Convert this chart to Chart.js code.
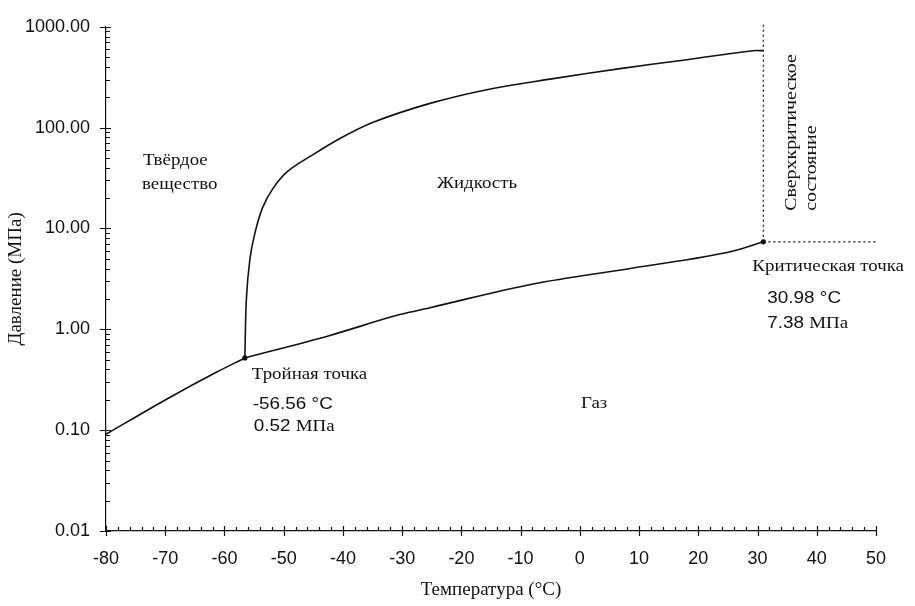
<!DOCTYPE html>
<html lang="ru">
<head>
<meta charset="utf-8">
<title>Фазовая диаграмма CO2</title>
<script src="https://cdn.jsdelivr.net/npm/chart.js@4.4.1/dist/chart.umd.min.js"></script>
<style>
  html, body { margin: 0; padding: 0; background: #fff; }
  #wrap { width: 915px; height: 606px; }
</style>
</head>
<body>
<div id="wrap"><canvas id="chart" width="915" height="606"></canvas></div>
<script>
// ===== Data =====
const xTicks = [-80, -70, -60, -50, -40, -30, -20, -10, 0, 10, 20, 30, 40, 50];
const yTicks = [0.01, 0.1, 1, 10, 100, 1000];
const yTickLabels = ['0.01', '0.10', '1.00', '10.00', '100.00', '1000.00'];

// solid <-> gas (sublimation)
const sublT = [-80, -69.7, -61.3, -56.56];
const sublP = [0.091, 0.204, 0.377, 0.52];

// liquid <-> gas (boiling)
const vapT = [-56.56, -42.2, -30.4, -25.3, -7.9, 9.0, 25.9, 30.98];
const vapP = [0.52, 0.87, 1.40, 1.64, 2.82, 4.06, 5.98, 7.38];

// solid <-> liquid (melting)
const meltT = [-56.56, -56.3, -55.7, -54.9, -53.6, -51.8, -49.3, -45.05, -40.5, -34.9, -25.3, -15.7, -4.5, 6.8, 18.1, 29.2, 30.98];
const meltP = [0.52, 2.0, 5.0, 8.8, 15.9, 25, 37, 54, 78, 113, 174, 238, 306, 385, 472, 579, 580];

// triple point, critical point
const pointT = [-56.56, 30.98];
const pointP = [0.52, 7.38];

// dotted boundaries of the supercritical region
const critVertT = [30.98, 30.98];
const critVertP = [7.38, 1050];
const critHorT = [30.98, 50];
const critHorP = [7.38, 7.38];

const toXY = (ts, ps) => ts.map((t, i) => ({ x: t, y: ps[i] }));

const SERIF = "'Liberation Serif', 'Times New Roman', serif";
const SANS = "'Liberation Sans', Arial, sans-serif";
const INK = '#111';

// ===== Text helper (slightly widened, like the source picture) =====
function drawParts(ctx, parts, x, y, sx = 1.18, rot = 0) {
  ctx.save();
  ctx.translate(x, y);
  if (rot) ctx.rotate(rot);
  ctx.scale(sx, 1);
  ctx.fillStyle = INK;
  ctx.textAlign = 'left';
  ctx.textBaseline = 'alphabetic';
  let dx = 0;
  parts.forEach(([text, font]) => {
    ctx.font = font;
    ctx.fillText(text, dx, 0);
    dx += ctx.measureText(text).width;
  });
  ctx.restore();
}

// ===== Inside ticks + annotations =====
const phasePlugin = {
  id: 'phase',
  afterDraw(chart) {
    const { ctx, chartArea: area, scales: { x, y } } = chart;
    const left = area.left, bottom = area.bottom;

    // tick marks
    ctx.save();
    ctx.strokeStyle = INK;
    ctx.lineWidth = 1.2;
    ctx.beginPath();
    for (let v = xTicks[0]; v <= xTicks[xTicks.length - 1]; v += 2) {
      const px = Math.round(x.getPixelForValue(v)) + 0.5;
      const major = v % 10 === 0;
      ctx.moveTo(px, bottom + (major ? 5 : 0));
      ctx.lineTo(px, bottom - (major ? 5 : 4));
    }
    yTicks.forEach((d, i) => {
      const py = Math.round(y.getPixelForValue(d)) + 0.5;
      ctx.moveTo(left - 6, py);
      ctx.lineTo(left + 5, py);
      if (i === yTicks.length - 1) return;
      for (let m = 2; m <= 9; m++) {
        const pm = Math.round(y.getPixelForValue(d * m)) + 0.5;
        ctx.moveTo(left, pm);
        ctx.lineTo(left + 4, pm);
      }
    });
    ctx.stroke();
    ctx.restore();

    const serif = '16px ' + SERIF;
    const sans = '16px ' + SANS;
    const at = (t, p) => [x.getPixelForValue(t), y.getPixelForValue(p)];

    // region names
    let [tx, ty] = at(-73.75, 43);
    drawParts(ctx, [['Твёрдое', serif]], tx, ty);
    drawParts(ctx, [['вещество', serif]], tx - 1, ty + 24);
    [tx, ty] = at(-24.1, 25);
    drawParts(ctx, [['Жидкость', serif]], tx, ty);
    [tx, ty] = at(0.2, 0.164);
    drawParts(ctx, [['Газ', serif]], tx, ty);

    // triple point
    const [trx, trY] = at(pointT[0], pointP[0]);
    drawParts(ctx, [['Тройная точка', serif]], trx + 7, trY + 21);
    drawParts(ctx, [['-56.56 °C', sans]], trx + 8, trY + 51);
    drawParts(ctx, [['0.52 ', sans], ['МПа', serif]], trx + 9, trY + 73);

    // critical point
    const [crx, crY] = at(pointT[1], pointP[1]);
    drawParts(ctx, [['Критическая точка', serif]], crx - 11, crY + 29);
    drawParts(ctx, [['30.98 °C', sans]], crx + 4, crY + 61);
    drawParts(ctx, [['7.38 ', sans], ['МПа', serif]], crx + 4, crY + 86);

    // supercritical label, rotated
    drawParts(ctx, [['Сверхкритическое', '17px ' + SERIF]], crx + 33, crY - 31, 1.17, -Math.PI / 2);
    drawParts(ctx, [['состояние', '17px ' + SERIF]], crx + 53, crY - 31, 1.17, -Math.PI / 2);
  }
};

// ===== Chart =====
const curve = (ts, ps, tension) => ({
  data: toXY(ts, ps),
  showLine: true,
  borderColor: INK,
  borderWidth: 1.6,
  pointRadius: 0,
  tension: tension,
  cubicInterpolationMode: tension ? 'default' : 'monotone'
});
const dotted = (ts, ps) => ({
  data: toXY(ts, ps),
  showLine: true,
  borderColor: INK,
  borderWidth: 1.2,
  borderDash: [2, 3],
  pointRadius: 0,
  clip: false
});

new Chart(document.getElementById('chart'), {
  type: 'scatter',
  data: {
    datasets: [
      curve(sublT, sublP),
      curve(vapT, vapP),
      curve(meltT, meltP, 0.35),
      dotted(critVertT, critVertP),
      dotted(critHorT, critHorP),
      {
        data: toXY(pointT, pointP),
        showLine: false,
        pointRadius: 2.6,
        pointBackgroundColor: INK,
        pointBorderColor: INK,
        pointBorderWidth: 0
      }
    ]
  },
  options: {
    responsive: false,
    animation: false,
    devicePixelRatio: 1,
    layout: { padding: { top: 25, right: 39, bottom: 0, left: 0 } },
    plugins: { legend: { display: false }, tooltip: { enabled: false } },
    scales: {
      x: {
        type: 'linear',
        min: -80,
        max: 50,
        afterBuildTicks: s => { s.ticks = xTicks.map(v => ({ value: v })); },
        afterFit: s => { s.height = 75; },
        grid: { display: false, drawTicks: false },
        border: { color: INK, width: 1.2 },
        ticks: { padding: 17, color: INK, maxRotation: 0, autoSkip: false, font: { family: SANS, size: 18 } },
        title: {
          display: true,
          text: 'Температура (°C)',
          color: INK,
          font: { family: SERIF, size: 19 },
          padding: { top: 0, bottom: 5 }
        }
      },
      y: {
        type: 'logarithmic',
        min: 0.01,
        max: 1000,
        afterBuildTicks: s => { s.ticks = yTicks.map(v => ({ value: v })); },
        afterFit: s => { s.width = 106; },
        grid: { display: false, drawTicks: false },
        border: { color: INK, width: 1.2 },
        ticks: {
          padding: 16,
          color: INK,
          autoSkip: false,
          font: { family: SANS, size: 18 },
          callback: (v, i) => yTickLabels[i]
        },
        title: {
          display: true,
          text: 'Давление (МПа)',
          color: INK,
          font: { family: SERIF, size: 19 },
          padding: { top: 5, bottom: 0 }
        }
      }
    }
  },
  plugins: [phasePlugin]
});
</script>
</body>
</html>
